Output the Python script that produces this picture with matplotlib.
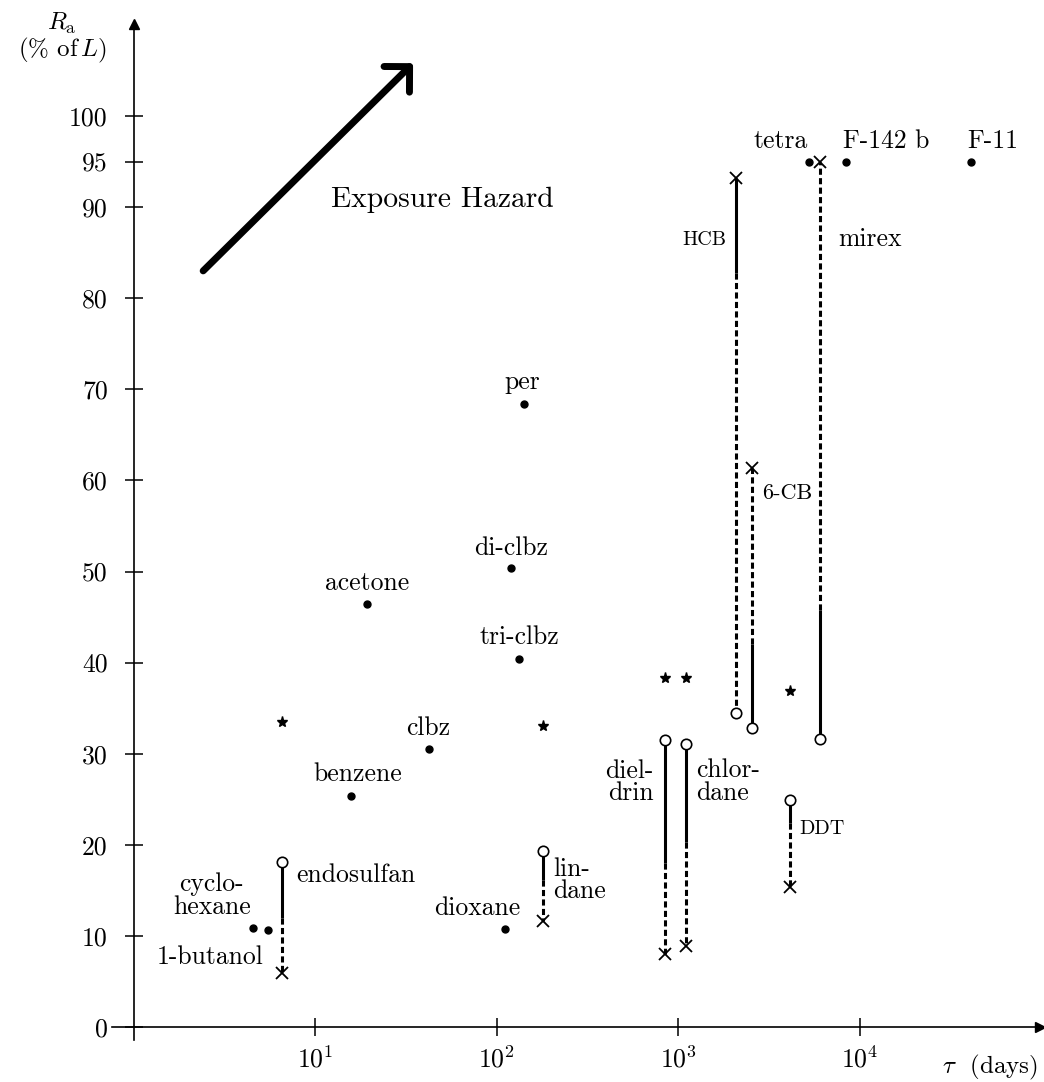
import matplotlib
matplotlib.use("Agg")
import matplotlib.pyplot as plt

# ---------------- data ----------------
dot_names = ["per", "di-clbz", "tri-clbz", "acetone", "clbz", "benzene",
             "dioxane", "cyclo-\nhexane", "1-butanol", "tetra", "F-142 b", "F-11"]
dot_tau = [142, 120, 133, 19.4, 42.5, 15.8, 111, 4.55, 5.5, 5270, 8430, 41100]
dot_R = [68.4, 50.4, 40.4, 46.4, 30.5, 25.4, 10.8, 10.9, 10.6, 95.0, 95.0, 95.0]

star_tau = [6.6, 180, 847, 1107, 4140]
star_R = [33.5, 33.0, 38.3, 38.3, 36.9]

seg_names = ["endosulfan", "lin-\ndane", "diel-\ndrin", "chlor-\ndane",
             "DDT", "HCB", "6-CB", "mirex"]
seg_tau = [6.6, 180, 847, 1107, 4140, 2090, 2560, 6050]
seg_R_circle = [18.1, 19.3, 31.5, 31.1, 24.9, 34.5, 32.8, 31.6]
seg_R_cross = [5.9, 11.6, 8.0, 8.9, 15.4, 93.2, 61.4, 95.0]
seg_R_switch = [12.0, 16.1, 18.0, 20.3, 22.4, 82.8, 42.0, 45.8]
seg_solid_side = ["circle", "circle", "circle", "circle", "circle",
                  "cross", "circle", "circle"]

y_ticks = [0, 10, 20, 30, 40, 50, 60, 70, 80, 90, 95, 100]
x_ticks = [10, 100, 1000, 10000]
x_tick_labels = ["$10^{1}$", "$10^{2}$", "$10^{3}$", "$10^{4}$"]

# ---------------- layout (label offsets in pixels: dx, dy, ha, size) ----------------
BIG = 18.5
SMALL = 14.5
dot_label_layout = {
    "per": (-2, 22, "center", BIG),
    "di-clbz": (0, 20, "center", BIG),
    "tri-clbz": (0, 22, "center", BIG),
    "acetone": (0, 21, "center", BIG),
    "clbz": (-1, 21, "center", BIG),
    "benzene": (7, 21, "center", BIG),
    "dioxane": (-27, 20, "center", BIG),
    "cyclo-\nhexane": (-41, 32, "center", BIG),
    "1-butanol": (-58, -27, "center", BIG),
    "tetra": (-28, 20, "center", BIG),
    "F-142 b": (-3, 20, "left", BIG),
    "F-11": (-4, 20, "left", BIG),
}
seg_label_layout = {  # relative to circle (c) or cross (x)
    "endosulfan": ("c", 14, -13, "left", BIG),
    "lin-\ndane": ("c", 10, -29, "left", BIG),
    "diel-\ndrin": ("c", -11, -42, "right", BIG),
    "chlor-\ndane": ("c", 10, -38, "left", BIG),
    "DDT": ("c", 9, -29, "left", SMALL),
    "HCB": ("x", -10, -62, "right", SMALL),
    "6-CB": ("x", 10, -26, "left", SMALL + 1.5),
    "mirex": ("x", 18, -78, "left", BIG),
}

plt.rcParams["font.family"] = "cmr10"
plt.rcParams["mathtext.fontset"] = "cm"
plt.rcParams["axes.formatter.use_mathtext"] = True
plt.rcParams["axes.unicode_minus"] = False

W, H = 1044, 1082
fig = plt.figure(figsize=(W / 100, H / 100), dpi=100)

# axes pixel frame
px_l, px_r, px_t, px_b = 112, 1040, 24, 1040
ax = fig.add_axes([px_l / W, 1 - px_b / H, (px_r - px_l) / W, (px_b - px_t) / H])
ax.set_xscale("log")
ax.set_xlim(10 ** -0.1185, 10 ** 4.9945)
ax.set_ylim(-1.427, 110.1)
ax.patch.set_alpha(0)

for s in ["top", "right"]:
    ax.spines[s].set_visible(False)
ax.spines["left"].set_position(("data", 1.0))
ax.spines["bottom"].set_position(("data", 0.0))
ax.spines["left"].set_linewidth(1.2)
ax.spines["bottom"].set_linewidth(1.2)

ax.set_yticks(y_ticks)
ax.set_yticklabels([str(v) for v in y_ticks])
ax.set_xticks(x_ticks)
ax.set_xticklabels(x_tick_labels)
ax.xaxis.set_minor_locator(matplotlib.ticker.NullLocator())
ax.tick_params(axis="both", direction="inout", length=13, width=1.1,
               labelsize=18.5, colors="k")
ax.tick_params(axis="y", pad=12)
ax.tick_params(axis="x", pad=7)

# arrowheads on axes
ax.plot(1, 0, ">", color="k", ms=7, transform=ax.get_yaxis_transform(), clip_on=False)
ax.plot(1.0, 1, "^", color="k", ms=7, transform=ax.get_xaxis_transform(), clip_on=False)

# segments
dash = (0, (2.0, 1.1))
for i, name in enumerate(seg_names):
    t = seg_tau[i]
    rc, rx, rs = seg_R_circle[i], seg_R_cross[i], seg_R_switch[i]
    if seg_solid_side[i] == "circle":
        solid = (rc, rs)
        dashed = (rs, rx)
    else:
        solid = (rx, rs)
        dashed = (rs, rc)
    ax.plot([t, t], solid, "-", color="k", lw=2.2, zorder=2, solid_capstyle="butt")
    ax.plot([t, t], dashed, linestyle=dash, color="k", lw=2.2, zorder=2)
    ax.plot(t, rc, "o", ms=7.5, mfc="white", mec="k", mew=1.2, zorder=3)
    ax.plot(t, rx, "x", ms=9, color="k", mew=1.3, zorder=3)
    ref, dx, dy, ha, fs = seg_label_layout[name]
    ax.annotate(name, xy=(t, rc if ref == "c" else rx), xytext=(dx, dy),
                textcoords="offset pixels", ha=ha, va="center", fontsize=fs,
                multialignment=ha, linespacing=0.95)

# dots
ax.plot(dot_tau, dot_R, "o", ms=5, color="k", linestyle="none", zorder=3)
for name, t, r in zip(dot_names, dot_tau, dot_R):
    dx, dy, ha, fs = dot_label_layout[name]
    ax.annotate(name, xy=(t, r), xytext=(dx, dy), textcoords="offset pixels",
                ha=ha, va="center", fontsize=fs, multialignment="center",
                linespacing=0.95)

# stars
ax.plot(star_tau, star_R, "*", ms=8, color="k", linestyle="none", zorder=3)

# exposure hazard arrow
ax.annotate("", xy=(34.7, 105.8), xytext=(2.42, 83.0),
            arrowprops=dict(arrowstyle="->,head_length=0.65,head_width=0.65",
                            lw=5, color="k", mutation_scale=20,
                            shrinkA=0, shrinkB=0),
            annotation_clip=False)
ax.text(50, 90.8, "Exposure Hazard", ha="center", va="center", fontsize=21.3)

# axis labels
fig.text(62 / W, 1 - 23 / H, r"$R_{\rm a}$", ha="center", va="center", fontsize=18)
fig.text(62 / W, 1 - 50 / H, r"(% of$\,L$)", ha="center", va="center", fontsize=18)
fig.text(990 / W, 1 - 1067 / H, r"$\tau$  (days)", ha="center", va="center", fontsize=18)

fig.savefig("out.png", dpi=100, facecolor="white")
